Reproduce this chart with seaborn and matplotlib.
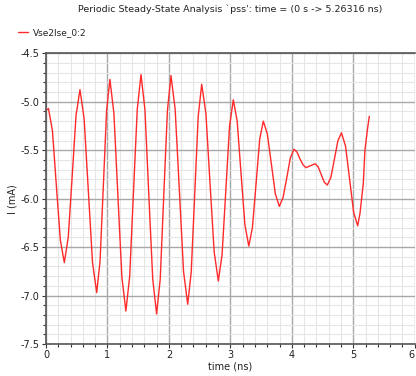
import matplotlib
matplotlib.use("Agg")
import matplotlib.pyplot as plt
from matplotlib.ticker import MultipleLocator, FuncFormatter
import numpy as np
import pandas as pd
import seaborn as sns

# PSS waveform of Vse2Ise_0:2, time in ns, current in mA
time_ns = [
    0.000, 0.040, 0.105, 0.169, 0.234, 0.298, 0.362, 0.426, 0.489, 0.553,
    0.621, 0.689, 0.757, 0.825, 0.879, 0.933, 0.986, 1.040, 1.105, 1.170,
    1.235, 1.300, 1.362, 1.423, 1.485, 1.546, 1.610, 1.673, 1.737, 1.800,
    1.859, 1.917, 1.976, 2.034, 2.102, 2.170, 2.238, 2.306, 2.363, 2.420,
    2.477, 2.534, 2.602, 2.669, 2.737, 2.804, 2.865, 2.926, 2.987, 3.048,
    3.111, 3.174, 3.237, 3.300, 3.359, 3.418, 3.477, 3.536, 3.601, 3.667,
    3.732, 3.797, 3.857, 3.917, 3.976, 4.036, 4.085, 4.133, 4.182, 4.230,
    4.304, 4.378, 4.428, 4.478, 4.528, 4.578, 4.636, 4.694, 4.751, 4.809,
    4.875, 4.941, 5.006, 5.072, 5.110, 5.164, 5.190, 5.230, 5.261,
]
current_mA = [
    -5.09, -5.07, -5.30, -5.87, -6.43, -6.66, -6.40, -5.77, -5.14, -4.875,
    -5.18, -5.92, -6.66, -6.97, -6.65, -5.87, -5.09, -4.77, -5.12, -5.97,
    -6.81, -7.16, -6.80, -5.94, -5.08, -4.72, -5.08, -5.96, -6.83, -7.19,
    -6.83, -5.96, -5.09, -4.73, -5.08, -5.91, -6.75, -7.09, -6.76, -5.96,
    -5.15, -4.82, -5.12, -5.84, -6.55, -6.85, -6.58, -5.92, -5.25, -4.98,
    -5.20, -5.74, -6.27, -6.49, -6.30, -5.85, -5.39, -5.20, -5.33, -5.64,
    -5.95, -6.08, -5.99, -5.79, -5.58, -5.49, -5.52, -5.59, -5.65, -5.68,
    -5.66, -5.64, -5.67, -5.75, -5.83, -5.86, -5.78, -5.59, -5.40, -5.32,
    -5.46, -5.80, -6.14, -6.28, -6.15, -5.84, -5.50, -5.29, -5.15,
]
signal_name = "Vse2Ise_0:2"

title_text = "Periodic Steady-State Analysis `pss': time = (0 s -> 5.26316 ns)"
x_label = "time (ns)"
y_label = "I (mA)"
x_ticks = [0, 1, 2, 3, 4, 5, 6]
y_ticks = [-7.5, -7.0, -6.5, -6.0, -5.5, -5.0, -4.5]

df = pd.DataFrame({"time": time_ns, "I": current_mA, "signal": signal_name})

sns.set_style("white")
plt.rcParams["font.family"] = ["DejaVu Sans"]

fig = plt.figure(figsize=(4.16, 3.76), dpi=100)
ax = fig.add_axes([46 / 416, 1 - 344 / 376, (414.7 - 46) / 416, (344 - 53.3) / 376])

sns.lineplot(data=df, x="time", y="I", hue="signal", palette=["#ff2a2a"],
             sort=False, estimator=None, linewidth=1.0, ax=ax)

ax.set_xlim(0, 6)
ax.set_ylim(-7.5, -4.5)
ax.set_xticks(x_ticks)
ax.set_yticks(y_ticks)
ax.xaxis.set_minor_locator(MultipleLocator(0.2))
ax.yaxis.set_minor_locator(MultipleLocator(0.1))
ax.xaxis.set_major_formatter(FuncFormatter(lambda v, p: f"{v:g}"))
ax.yaxis.set_major_formatter(FuncFormatter(lambda v, p: f"{v:.1f}".replace("\u2212", "-")))

ax.grid(which="major", color="#a8a8a8", linewidth=1.0)
ax.grid(which="minor", color="#e6e6e6", linewidth=0.8)
ax.set_axisbelow(True)

ax.tick_params(which="major", direction="out", length=3, width=0.8,
               color="#333333", labelsize=7, pad=1.5, labelcolor="#222222")
ax.tick_params(which="minor", direction="out", length=2, width=0.8, color="#333333")
ax.tick_params(axis="x", bottom=True, which="both")
ax.tick_params(axis="y", left=True, which="both")

for side in ["left", "bottom", "top"]:
    ax.spines[side].set_color("#555555")
    ax.spines[side].set_linewidth(1.2)
ax.spines["right"].set_visible(False)

# keep the last time label inside the figure edge
fig.canvas.draw()
last_label = ax.get_xticklabels()[-1]
last_label.set_horizontalalignment("right")

ax.set_xlabel(x_label, fontsize=7, labelpad=1, color="#222222")
ax.set_ylabel(y_label, fontsize=7, labelpad=2, color="#222222")
ax.set_title(title_text, fontsize=6.8, color="#222222", pad=30)

leg = ax.legend(loc="lower left", bbox_to_anchor=(-0.075, 1.057), frameon=False,
                fontsize=6.5, handlelength=1.1, handletextpad=0.5, borderaxespad=0,
                borderpad=0)
for txt in leg.get_texts():
    txt.set_color("#222222")

fig.savefig("out.png", dpi=100)
